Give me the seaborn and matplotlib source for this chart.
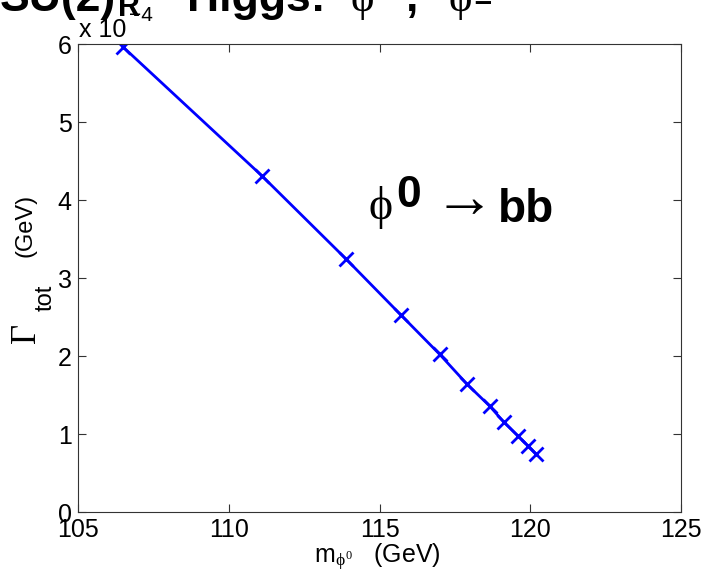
import matplotlib
matplotlib.use("Agg")
import matplotlib.pyplot as plt
import seaborn as sns

# phi0 mass (GeV) and total width (units of 1e-4 GeV)
m_phi0 = [106.5, 111.1, 113.9, 115.7, 117.0, 117.9, 118.65, 119.13, 119.58, 119.92, 120.2]
gamma_tot = [5.96, 4.31, 3.24, 2.53, 2.02, 1.64, 1.36, 1.15, 0.98, 0.85, 0.74]

x_ticks = [105, 110, 115, 120, 125]
y_ticks = [0, 1, 2, 3, 4, 5, 6]

sns.set_style("ticks")
plt.rcParams["font.family"] = ["Liberation Sans", "DejaVu Sans"]
plt.rcParams["text.color"] = "black"
plt.rcParams["xtick.labelcolor"] = "black"
plt.rcParams["ytick.labelcolor"] = "black"
plt.rcParams["mathtext.fontset"] = "custom"
plt.rcParams["mathtext.rm"] = "Liberation Serif"
plt.rcParams["mathtext.it"] = "Liberation Serif"
plt.rcParams["mathtext.bf"] = "Liberation Sans:bold"
plt.rcParams["mathtext.sf"] = "Liberation Sans"

SERIF = ["Liberation Serif", "DejaVu Serif"]
PHI = "\u03d5"

fig = plt.figure(figsize=(7.07, 5.77), dpi=100)
ax = fig.add_axes([78 / 707, 1 - 512 / 577, 603 / 707, 468 / 577])

sns.lineplot(
    x=m_phi0, y=gamma_tot, ax=ax,
    color="#0000ff", linewidth=2,
    marker="x", markersize=10, markeredgewidth=2, markeredgecolor="#0000ff",
    sort=False
)

ax.set_xlim(105, 125)
ax.set_ylim(0, 6)
ax.set_xticks(x_ticks)
ax.set_yticks(y_ticks)
ax.tick_params(direction="in", top=True, right=True, labelsize=18, length=6,
               width=0.8, pad=4.5, color="#333333", labelcolor="black")
for s in ax.spines.values():
    s.set_linewidth(0.8)
    s.set_color("#333333")
    s.set_visible(True)
ax.set_xlabel("")
ax.set_ylabel("")

# x label
fig.text(377 / 707, 1 - 563 / 577, r"m$_{\phi^0}$   (GeV)", fontsize=18,
         ha="center", va="baseline")

# y label pieces
fig.text(26 / 707, 1 - 225 / 577, "(GeV)", rotation=90, fontsize=17, ha="center", va="center")
fig.text(26 / 707, 1 - 333 / 577, "Γ", rotation=90, fontsize=25, ha="center", va="center",
         family=SERIF)
fig.text(46 / 707, 1 - 298 / 577, "tot", rotation=90, fontsize=17, ha="center", va="center")

# exponent label
fig.text(79 / 707, 1 - 37 / 577, "x 10", fontsize=18, ha="left", va="baseline")
fig.text(129 / 707, 1 - 21 / 577, "\u22124", fontsize=15, ha="left", va="baseline")

# annotation phi0 -> bb
ax.text(114.62, 3.76, PHI, fontsize=33, ha="left", va="baseline", family=SERIF)
ax.text(115.55, 3.91, "0", fontsize=32, fontweight="bold", ha="left", va="baseline")
ax.text(116.8, 3.78, "\u2192", fontsize=44, ha="left", va="baseline",
        family=["Liberation Sans", "DejaVu Sans"])
ax.text(118.93, 3.72, "bb", fontsize=33, fontweight="bold", ha="left", va="baseline")

# title (cut off at the top of the figure)
tb = 1 - 11 / 577
fig.text(0 / 707, tb, "SU(2)", fontsize=32, fontweight="bold", ha="left", va="baseline")
fig.text(118 / 707, 1 - 16 / 577, "R", fontsize=22, fontweight="bold", ha="left", va="baseline")
fig.text(187 / 707, tb, "Higgs:", fontsize=32, fontweight="bold", ha="left", va="baseline")
fig.text(351 / 707, tb, PHI, fontsize=32, ha="left", va="baseline", family=SERIF)
fig.text(378 / 707, 1 + 6 / 577, "0", fontsize=22, fontweight="bold", ha="left", va="baseline")
fig.text(406 / 707, tb, ",", fontsize=32, fontweight="bold", ha="left", va="baseline")
fig.text(448 / 707, tb, PHI, fontsize=32, ha="left", va="baseline", family=SERIF)
fig.text(474 / 707, 1 - 4 / 577, "±", fontsize=22, fontweight="bold", ha="left", va="baseline")

fig.savefig("out.png", dpi=100)
